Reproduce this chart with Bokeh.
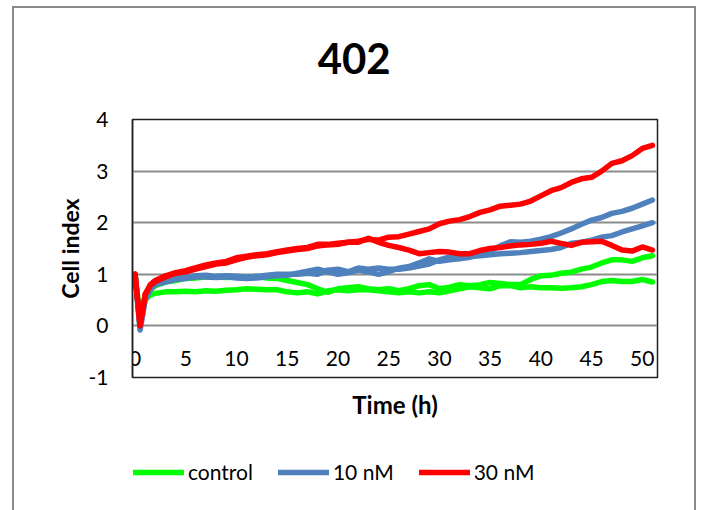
from bokeh.plotting import figure
from bokeh.models import Range1d, FixedTicker, Legend, LegendItem, Label
from bokeh.layouts import column
from bokeh.embed import file_html
from bokeh.resources import INLINE

# ---- data ----
time_h = [0, 0.5, 1, 1.5, 2, 3, 4, 5, 6, 7, 8, 9, 10, 11, 12, 13, 14, 15, 16, 17, 18, 19, 20,
          21, 22, 23, 24, 25, 26, 27, 28, 29, 30, 31, 32, 33, 34, 35, 36, 37, 38, 39, 40,
          41, 42, 43, 44, 45, 46, 47, 48, 49, 50, 51]

control_a = [1.0, 0.10, 0.55, 0.70, 0.78, 0.85, 0.88, 0.92, 0.93, 0.95, 0.95, 0.94, 0.95, 0.95,
             0.96, 0.93, 0.92, 0.88, 0.84, 0.80, 0.72, 0.65, 0.72, 0.74, 0.76, 0.72, 0.70, 0.72,
             0.68, 0.72, 0.78, 0.80, 0.72, 0.75, 0.80, 0.78, 0.80, 0.84, 0.82, 0.80, 0.80, 0.90,
             0.97, 0.98, 1.02, 1.04, 1.10, 1.14, 1.22, 1.28, 1.28, 1.25, 1.32, 1.36]
control_b = [1.0, 0.15, 0.50, 0.60, 0.63, 0.66, 0.66, 0.67, 0.66, 0.68, 0.67, 0.69, 0.70, 0.72,
             0.71, 0.70, 0.70, 0.66, 0.64, 0.66, 0.62, 0.68, 0.70, 0.68, 0.70, 0.70, 0.68, 0.66,
             0.64, 0.66, 0.64, 0.66, 0.64, 0.68, 0.72, 0.76, 0.74, 0.72, 0.78, 0.78, 0.74, 0.76,
             0.74, 0.74, 0.73, 0.74, 0.76, 0.80, 0.86, 0.88, 0.86, 0.86, 0.90, 0.85]
nm10_a = [1.0, -0.08, 0.50, 0.70, 0.80, 0.85, 0.90, 0.92, 0.95, 0.95, 0.94, 0.95, 0.93, 0.92,
          0.93, 0.95, 0.97, 0.98, 1.02, 1.06, 1.10, 1.05, 1.00, 1.03, 1.08, 1.05, 1.00, 1.05,
          1.12, 1.15, 1.22, 1.30, 1.25, 1.28, 1.30, 1.33, 1.38, 1.45, 1.55, 1.63, 1.62, 1.64,
          1.68, 1.73, 1.80, 1.88, 1.97, 2.05, 2.10, 2.18, 2.22, 2.28, 2.36, 2.44]
nm10_b = [1.0, -0.05, 0.55, 0.72, 0.82, 0.88, 0.92, 0.95, 0.97, 0.98, 0.96, 0.97, 0.96, 0.95,
          0.96, 0.98, 1.00, 1.00, 1.00, 1.02, 1.00, 1.08, 1.10, 1.05, 1.12, 1.10, 1.12, 1.10,
          1.10, 1.12, 1.16, 1.20, 1.28, 1.34, 1.36, 1.35, 1.36, 1.38, 1.40, 1.41, 1.42, 1.44,
          1.46, 1.48, 1.52, 1.60, 1.62, 1.66, 1.72, 1.75, 1.82, 1.88, 1.94, 2.00]
nm30_a = [1.0, 0.00, 0.60, 0.80, 0.88, 0.97, 1.03, 1.07, 1.13, 1.18, 1.22, 1.25, 1.32, 1.35,
          1.38, 1.40, 1.44, 1.47, 1.50, 1.52, 1.58, 1.58, 1.60, 1.62, 1.64, 1.68, 1.66, 1.72,
          1.73, 1.78, 1.83, 1.88, 1.98, 2.03, 2.06, 2.12, 2.20, 2.25, 2.32, 2.34, 2.36, 2.42,
          2.52, 2.62, 2.68, 2.78, 2.85, 2.88, 3.00, 3.15, 3.20, 3.30, 3.44, 3.50]
nm30_b = [1.0, 0.02, 0.62, 0.78, 0.86, 0.95, 1.02, 1.05, 1.10, 1.15, 1.20, 1.22, 1.28, 1.33,
          1.36, 1.38, 1.42, 1.45, 1.48, 1.50, 1.55, 1.57, 1.58, 1.62, 1.62, 1.70, 1.62, 1.56,
          1.52, 1.47, 1.40, 1.42, 1.44, 1.43, 1.40, 1.40, 1.46, 1.50, 1.52, 1.55, 1.57, 1.58,
          1.60, 1.64, 1.60, 1.56, 1.62, 1.63, 1.64, 1.56, 1.47, 1.45, 1.53, 1.47]

series_labels = ["control", "10 nM", "30 nM"]
series_colors = ["#00FF00", "#4F81BD", "#FF0000"]
x_ticks = [0, 5, 10, 15, 20, 25, 30, 35, 40, 45, 50]
y_ticks = [-1, 0, 1, 2, 3, 4]
chart_title = "402"
x_label = "Time (h)"
y_label = "Cell index"

FONT = "Lato"
W = 680            # inner width of the chart box
HEAD_H = 80        # title strip
MAIN_H = 300       # plot strip
FOOT_H = 122       # axis title + legend strip
TITLE_X = 21.6     # title sits centred on the whole chart box, left of the plot centre

x_range = Range1d(-0.25, 51.5)
y_range = Range1d(-1, 4)


def strip(height):
    """A frame-only figure (frame aligned with the plot's) holding text outside the plot area."""
    f = figure(width=W, height=height, x_range=x_range, y_range=Range1d(0, height),
               x_axis_type=None, y_axis_type=None, output_backend="svg",
               toolbar_location=None, min_border=0,
               background_fill_color="white", border_fill_color="white")
    f.outline_line_color = None
    f.xgrid.grid_line_color = None
    f.ygrid.grid_line_color = None
    return f


# ---------- title strip ----------
head = strip(HEAD_H)
head.add_layout(Label(x=TITLE_X, y=30, text=chart_title, text_align="center",
                      text_baseline="middle", text_font=FONT, text_font_style="bold",
                      text_font_size="42px", text_color="black"))

# ---------- main plot ----------
p = figure(width=W, height=MAIN_H, x_range=x_range, y_range=y_range,
           output_backend="svg", toolbar_location=None,
           min_border_left=118, min_border_right=37,
           min_border_top=31, min_border_bottom=11,
           background_fill_color="white", border_fill_color="white")
p.outline_line_color = "#202020"
p.outline_line_width = 1.5

p.xgrid.grid_line_color = None
p.ygrid.ticker = FixedTicker(ticks=y_ticks)
p.ygrid.grid_line_color = "#8c8c8c"
p.ygrid.grid_line_width = 2

yax = p.yaxis[0]
yax.ticker = FixedTicker(ticks=y_ticks)
yax.major_label_overrides = {-1: "-1"}
yax.axis_line_color = "#202020"
yax.axis_line_width = 1.5
yax.major_tick_line_color = None
yax.major_tick_out = 0
yax.minor_tick_line_color = None
yax.major_label_text_font = FONT
yax.major_label_text_font_size = "21px"
yax.major_label_text_color = "black"
yax.major_label_standoff = 24
yax.axis_label = y_label
yax.axis_label_text_font = FONT
yax.axis_label_text_font_style = "bold"
yax.axis_label_text_font_size = "23px"
yax.axis_label_text_color = "black"
yax.axis_label_standoff = 2

# x axis crosses at y = 0 (Excel style): tick labels just under the 0 line
xax = p.xaxis[0]
xax.fixed_location = 0
xax.ticker = FixedTicker(ticks=x_ticks)
xax.axis_line_color = None
xax.major_tick_line_color = None
xax.major_tick_out = 0
xax.minor_tick_line_color = None
xax.major_label_text_font = FONT
xax.major_label_text_font_size = "21px"
xax.major_label_text_color = "black"
xax.major_label_standoff = 25

LW = 5.5
series = [(control_a, control_b), (nm10_a, nm10_b), (nm30_a, nm30_b)]
for (ya, yb), col in zip(series, series_colors):
    p.line(time_h, ya, line_color=col, line_width=LW, line_join="round", line_cap="round")
    p.line(time_h, yb, line_color=col, line_width=LW, line_join="round", line_cap="round")

# ---------- axis title + legend strip ----------
foot = strip(FOOT_H)
foot.add_layout(Label(x=(x_range.start + x_range.end) / 2, y=106, text=x_label,
                      text_align="center", text_baseline="middle", text_font=FONT,
                      text_font_style="bold", text_font_size="24px", text_color="black"))
items = []
for (ya, _), lab, col in zip(series, series_labels, series_colors):
    # legend proxies: same style as the plotted series, hidden in this strip
    r = foot.line(time_h, ya, line_color=col, line_width=LW, line_cap="round", visible=False)
    items.append(LegendItem(label=lab, renderers=[r]))
legend = Legend(items=items, orientation="horizontal", location=(1, 26),
                padding=0, margin=0, spacing=25, glyph_width=51, glyph_height=20,
                label_standoff=4, label_text_font=FONT, label_text_font_size="21px",
                label_text_color="black", border_line_color=None,
                background_fill_alpha=0, inactive_fill_alpha=0)
foot.add_layout(legend, "center")

page = column(head, p, foot, spacing=0, margin=(6, 0, 0, 12),
              styles={"border-top": "2px solid #8a8a8a",
                      "border-left": "2px solid #8a8a8a",
                      "border-right": "2px solid #8a8a8a"})

open("out.html", "w").write(file_html(page, INLINE))
